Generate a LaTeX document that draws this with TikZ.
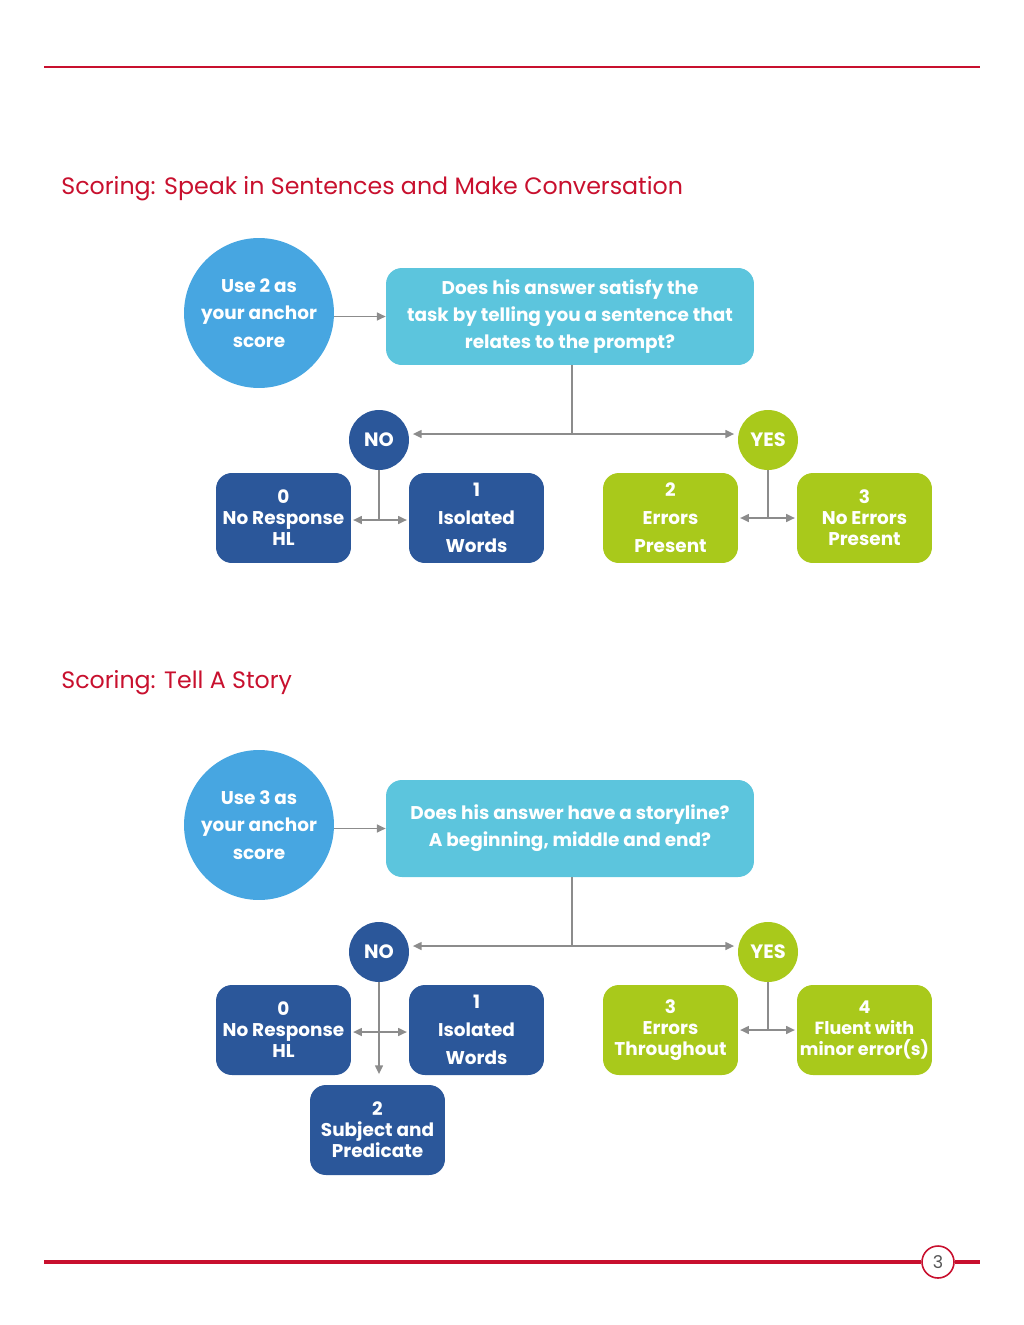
\documentclass[tikz,border=0pt]{standalone}
\usepackage{fontspec}
\setmainfont{Poppins}
\usetikzlibrary{arrows.meta}
\definecolor{scorered}{HTML}{C8102E}
\definecolor{navy}{HTML}{2B579A}
\definecolor{aqua}{HTML}{5CC5DD}
\definecolor{sky}{HTML}{47A6E1}
\definecolor{lime}{HTML}{A9C91B}
\definecolor{linegray}{HTML}{8C8C8C}
\definecolor{pagegray}{HTML}{555555}

\begin{document}
\begin{tikzpicture}[x=0.02cm, y=-0.02cm,
    >={Triangle[length=5pt,width=4.5pt]},
    startdisc/.style={circle, fill=sky, minimum size=3cm, inner sep=0pt, align=center,
                      text=white, font=\bfseries\fontsize{10.5}{15.5}\selectfont},
    question/.style={rectangle, fill=aqua, rounded corners=9pt, minimum width=7.36cm,
                     minimum height=1.94cm, align=center, text=white,
                     font=\bfseries\fontsize{10.5}{15.5}\selectfont},
    nobadge/.style={circle, fill=navy, minimum size=1.2cm, inner sep=0pt, text=white,
                    font=\bfseries\fontsize{11}{13}\selectfont},
    yesbadge/.style={nobadge, fill=lime},
    score/.style={rectangle, rounded corners=9pt, minimum width=2.7cm, minimum height=1.8cm,
                  inner sep=0.5pt, align=center, text=white,
                  font=\bfseries\fontsize{10.5}{12}\selectfont},
    lowscore/.style={score, fill=navy},
    highscore/.style={score, fill=lime},
    link/.style={draw=linegray, line width=0.9pt},
    heading/.style={anchor=base west, inner sep=0pt, text=scorered,
                    font=\fontsize{13.5}{16}\selectfont}
]
    \useasboundingbox (0,0) rectangle (1024,1325);

    % page rules
    \draw[scorered, line width=0.8pt] (44,67) -- (980,67);
    \node[circle, draw=scorered, line width=0.9pt, minimum size=0.64cm, inner sep=0pt,
          text=pagegray, font=\fontsize{10}{12}\selectfont] (pageno) at (938,1262) {3};
    \draw[scorered, line width=1.8pt] (44,1262) -- (pageno.west);
    \draw[scorered, line width=1.8pt] (pageno.east) -- (980,1262);

    % first chart
    \node[heading] (title1) at (61,194) {Scoring: Speak in Sentences and Make Conversation};
    \node[startdisc] (use1) at (259,313) {Use 2 as\\your anchor\\score};
    \node[question] (q1) at (570,316.5) {Does his answer satisfy the\\task by telling you a sentence that\\relates to the prompt?};
    \node[nobadge] (no1) at (379,440) {NO};
    \node[yesbadge] (yes1) at (768,440) {YES};
    \node[lowscore] (s1zero) at (283.5,518) {0\\No Response\\HL};
    \node[lowscore] (s1one) at (476.5,518) {1\\[4pt]Isolated\\[4pt]Words};
    \node[highscore] (s1two) at (670.5,518) {2\\[4pt]Errors\\[4pt]Present};
    \node[highscore] (s1three) at (864.5,518) {3\\No Errors\\Present};

    \coordinate (s1fork) at (572,434);
    \coordinate (s1nofork) at (379,520);
    \coordinate (s1yesfork) at (768,518);

    \draw[link, ->] (use1.east |- q1.west) -- (q1.west);
    \draw[link] (q1.south -| s1fork) -- (s1fork);
    \draw[link, <->, shorten <=2pt, shorten >=2pt] (no1.east |- s1fork) -- (yes1.west |- s1fork);
    \draw[link] (no1.south) -- (s1nofork);
    \draw[link, <->, shorten <=1pt, shorten >=1pt] (s1zero.east |- s1nofork) -- (s1one.west |- s1nofork);
    \draw[link] (yes1.south) -- (s1yesfork);
    \draw[link, <->, shorten <=1pt, shorten >=1pt] (s1two.east |- s1yesfork) -- (s1three.west |- s1yesfork);

    % second chart
    \node[heading] (title2) at (61,688) {Scoring: Tell A Story};
    \node[startdisc] (use2) at (259,825) {Use 3 as\\your anchor\\score};
    \node[question] (q2) at (570,828.5) {Does his answer have a storyline?\\A beginning, middle and end?};
    \node[nobadge] (no2) at (379,952) {NO};
    \node[yesbadge] (yes2) at (768,952) {YES};
    \node[lowscore] (s2zero) at (283.5,1030) {0\\No Response\\HL};
    \node[lowscore] (s2one) at (476.5,1030) {1\\[4pt]Isolated\\[4pt]Words};
    \node[highscore] (s2three) at (670.5,1030) {3\\Errors\\Throughout};
    \node[highscore, font=\bfseries\fontsize{10}{12}\selectfont] (s2four) at (864.5,1030) {4\\Fluent with\\minor error(s)};
    \node[lowscore] (s2two) at (377.5,1130) {2\\Subject and\\Predicate};

    \coordinate (s2fork) at (572,946);
    \coordinate (s2nofork) at (379,1032);
    \coordinate (s2yesfork) at (768,1030);

    \draw[link, ->] (use2.east |- q2.west) -- (q2.west);
    \draw[link] (q2.south -| s2fork) -- (s2fork);
    \draw[link, <->, shorten <=2pt, shorten >=2pt] (no2.east |- s2fork) -- (yes2.west |- s2fork);
    \draw[link, ->, shorten >=6pt] (no2.south) -- (no2.south |- s2two.north);
    \draw[link, <->, shorten <=1pt, shorten >=1pt] (s2zero.east |- s2nofork) -- (s2one.west |- s2nofork);
    \draw[link] (yes2.south) -- (s2yesfork);
    \draw[link, <->, shorten <=1pt, shorten >=1pt] (s2three.east |- s2yesfork) -- (s2four.west |- s2yesfork);
\end{tikzpicture}
\end{document}
